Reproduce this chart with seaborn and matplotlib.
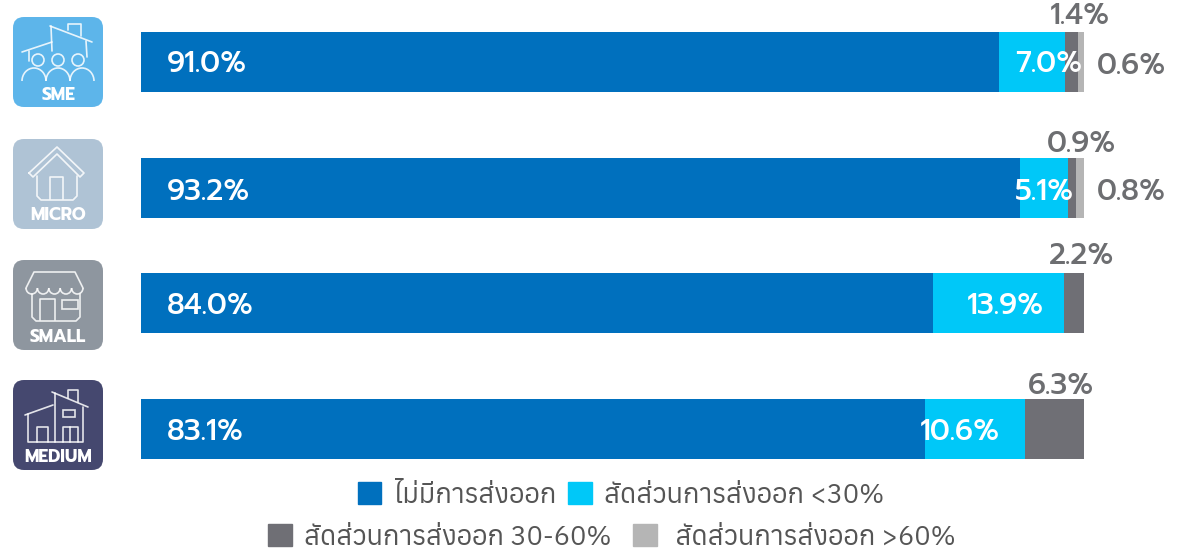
import numpy as np
import pandas as pd
import seaborn as sns
import matplotlib.pyplot as plt
from matplotlib import font_manager as fm
from matplotlib.patches import FancyBboxPatch, Patch, Circle, Arc, Rectangle

# data
groups = ["SME", "MICRO", "SMALL", "MEDIUM"]
no_export = [91.0, 93.2, 84.0, 83.1]
under_30 = [7.0, 5.1, 13.9, 10.6]
from_30_60 = [1.4, 0.9, 2.2, 6.3]
over_60 = [0.6, 0.8, 0.0, 0.0]
legend_labels = ["ไม่มีการส่งออก", "สัดส่วนการส่งออก <30%", "สัดส่วนการส่งออก 30-60%", " สัดส่วนการส่งออก >60%"]
colors = ["#0070BE", "#00C8F8", "#6F6F75", "#B5B5B5"]
icon_colors = ["#5DB5EA", "#AFC3D5", "#8E969F", "#45486F"]

# layout, pixels
W, H = 1192, 552
row_top = [32, 158, 273, 399]
bar_h = 60

sns.set_theme(style="white")

# thai fonts are not on every box, take the first one found
names = {f.name for f in fm.fontManager.ttflist}
thai_font = [n for n in ["Anuphan", "Kanit", "Noto Sans Thai"] if n in names][:1]
num_font = [n for n in ["Prompt", "Inter"] if n in names][:1]
plt.rcParams["font.family"] = thai_font + ["Inter", "DejaVu Sans"]

fig = plt.figure(figsize=(W / 100, H / 100), dpi=100)

df = pd.DataFrame({"group": groups, "a": no_export, "b": under_30, "c": from_30_60, "d": over_60})
df[["a", "b", "c", "d"]] = df[["a", "b", "c", "d"]].cumsum(axis=1)

for i, g in enumerate(groups):
    ax = fig.add_axes([141 / W, 1 - (row_top[i] + bar_h) / H, 943 / W, bar_h / H])
    row = df[df.group == g]
    # stacked = cumulative totals drawn back to front
    for col, c in zip(["d", "c", "b", "a"], colors[::-1]):
        sns.barplot(data=row, x=col, y="group", color=c, width=1, saturation=1, linewidth=0, ax=ax)
    ax.set_xlim(0, 100)
    ax.set_ylim(0.5, -0.5)
    ax.axis("off")

# overlay in pixel coords for icons + labels
ov = fig.add_axes([0, 0, 1, 1], facecolor="none")
ov.set_xlim(0, W)
ov.set_ylim(H, 0)
ov.axis("off")

def poly(pts, y0, lw=1.2):
    xs, ys = zip(*pts)
    ov.plot(xs, np.array(ys) + y0, color="white", lw=lw, alpha=0.85, solid_capstyle="round", solid_joinstyle="round")

icon_top = [17, 139, 260, 380]
icon_label_y = [95, 216, 338, 457]
for i, g in enumerate(groups):
    ov.add_patch(FancyBboxPatch((13 + 10, icon_top[i] + 10), 70, 70, boxstyle="round,pad=10,rounding_size=11",
                                fc=icon_colors[i], ec="none"))
    ov.text(58, icon_label_y[i], g, color="white", fontsize=12.5, fontweight="bold", ha="center", va="center",
            family=num_font + ["DejaVu Sans"])

# SME
y0 = 17
poly([(50, 9), (92, 25)], y0)
poly([(22, 35), (52, 25)], y0)
poly([(51, 9), (52, 34)], y0)
poly([(86, 24), (87, 40)], y0)
poly([(68, 13), (68, 7), (81, 7), (81, 19)], y0)
poly([(29, 34), (29, 44)], y0)
for cx in (38, 58, 78):
    ov.add_patch(Circle((cx, y0 + 43), 6, fc="none", ec="white", lw=1.2, alpha=0.85))
for cx in (34, 58, 82):
    ov.add_patch(Arc((cx, y0 + 64), 24, 26, theta1=180, theta2=360, color="white", lw=1.2, alpha=0.85))
# MICRO
y0 = 139
poly([(29, 34), (57, 8), (84, 34), (80, 38), (57, 15), (33, 38), (29, 34)], y0)
poly([(37, 37), (37, 57), (41, 61), (73, 61), (77, 57), (77, 37)], y0)
poly([(50, 60), (50, 38), (63, 38), (63, 60)], y0)
# SMALL
y0 = 260
poly([(26, 28), (34, 12), (75, 12), (83, 28)], y0)
for cx in (31.7, 43.1, 54.5, 65.9, 77.3):
    ov.add_patch(Arc((cx, y0 + 28), 11.4, 12, theta1=0, theta2=180, color="white", lw=1.2, alpha=0.85))
poly([(32, 34), (32, 57), (36, 61), (76, 61), (80, 57), (80, 34)], y0)
poly([(40, 60), (40, 39), (55, 39), (55, 60)], y0)
ov.add_patch(Rectangle((62, 300), 16, 9, fc="none", ec="white", lw=1.2, alpha=0.85))
# MEDIUM
y0 = 380
poly([(52, 12), (88, 27)], y0)
poly([(25, 35), (53, 25)], y0)
poly([(68, 18), (68, 10), (78, 10), (78, 22)], y0)
poly([(28, 34), (28, 62), (83, 62), (83, 27)], y0)
poly([(55, 13), (55, 62)], y0)
poly([(37, 62), (37, 47), (48, 47), (48, 62)], y0)
poly([(63, 62), (63, 47), (78, 47), (78, 62)], y0)
poly([(70, 47), (70, 62)], y0)
ov.add_patch(Rectangle((63, 410), 12, 7, fc="none", ec="white", lw=1.2, alpha=0.85))

# value labels
label_kw = dict(fontsize=21, fontweight="medium", va="center", family=num_font + ["DejaVu Sans"])
for v, y in zip(no_export, [65, 192, 307, 432]):
    ov.text(167, y, f"{v:.1f}%", color="white", ha="left", **label_kw)
for v, x, y in zip(under_30, [1049, 1044, 1005, 960], [65, 192, 307, 432]):
    ov.text(x, y, f"{v:.1f}%", color="white", ha="center", **label_kw)
for v, x, y in zip(from_30_60, [1080, 1081, 1081, 1061], [17, 145, 256, 386]):
    ov.text(x, y, f"{v:.1f}%", color="#6D6E71", ha="center", **label_kw)
for v, y in zip(over_60[:2], [66, 193]):
    ov.text(1131, y, f"{v:.1f}%", color="#6D6E71", ha="center", **label_kw)

# legend rows
h = [Patch(color=c) for c in colors]
leg_kw = dict(ncol=2, loc="center", frameon=False, fontsize=19.5, handlelength=0.88, handleheight=0.88,
              handletextpad=0.45, labelcolor="#555555")
fig.legend(h[:2], legend_labels[:2], bbox_to_anchor=(621 / W, 1 - 495 / H), columnspacing=0.45, **leg_kw)
fig.legend(h[2:], legend_labels[2:], bbox_to_anchor=(612 / W, 1 - 537 / H), columnspacing=0.8, **leg_kw)

fig.savefig("out.png", dpi=100)
